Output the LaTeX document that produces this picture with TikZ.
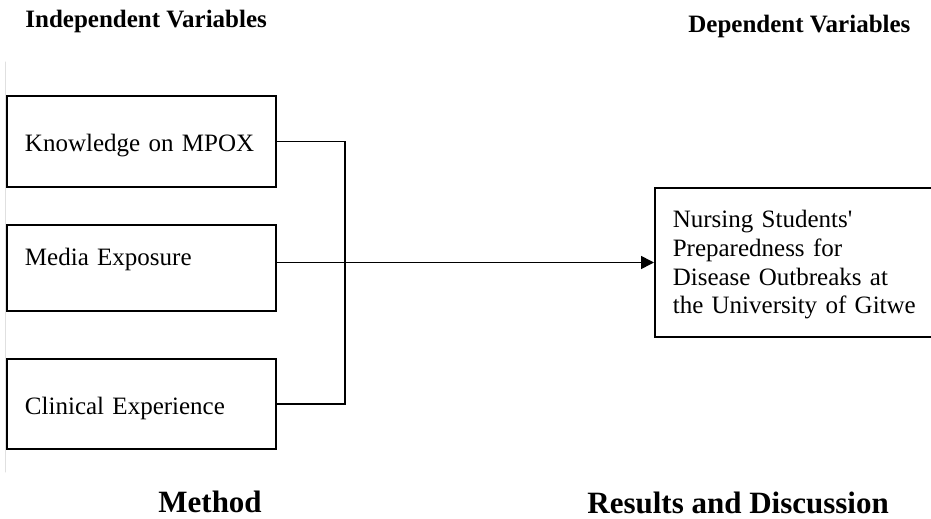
\documentclass[tikz,border=0pt]{standalone}
\usepackage{fontspec}
\setmainfont{Liberation Serif}
\usetikzlibrary{arrows.meta, calc}

\begin{document}
\begin{tikzpicture}[x=0.5pt,y=-0.5pt,line cap=round,
    varbox/.style={draw, line width=0.8pt, align=left, text width=116.5pt,
      inner xsep=9pt, inner ysep=0pt, font=\fontsize{12.5}{14.5}\selectfont,
      text height=10pt, text depth=0pt},
    heading/.style={font=\fontsize{12.5}{15}\selectfont\bfseries,
      anchor=base west, inner sep=0pt},
    sectitle/.style={font=\fontsize{15.5}{18}\selectfont\bfseries,
      anchor=base west, inner sep=0pt}]
  % --- Area della figura ---
  \path[use as bounding box, clip] (0,0) rectangle (931,519);
  \draw[black!12, line width=0.5pt] (5.5,62) -- (5.5,472);

  % --- Titoli delle colonne ---
  \node[heading] (indep) at (25,28) {Independent Variables};
  \node[heading] (dep) at (688,33) {Dependent Variables};

  % --- Variabili indipendenti ---
  \node[varbox, minimum height=45.5pt] (know) at (141.5,141.5) {Knowledge on MPOX};
  \node[varbox, minimum height=43pt, text height=8pt, text depth=11pt]
    (media) at (141.5,268) {Media Exposure};
  \node[varbox, minimum height=45pt] (clin) at (141.5,404) {Clinical Experience};

  % --- Variabile dipendente ---
  \node[varbox, anchor=west, text width=150pt, minimum height=74.5pt,
    text height=0pt, text depth=35.5pt] (prep) at (654,262.5)
    {Nursing Students\textquotesingle\\Preparedness for\\Disease Outbreaks at\\the University of Gitwe};

  % --- Collegamenti ---
  \coordinate (junc) at (345,268);
  \draw[line width=0.8pt] (know.east) -| (junc) |- (clin.east);
  \draw[line width=0.8pt, -{Triangle[length=6.5pt,width=6.5pt]}]
    (media.east |- prep.west) -- (prep.west);

  % --- Sezioni ---
  \node[sectitle] (meth) at (158,512) {Method};
  \node[sectitle] (res) at (587,513) {Results and Discussion};
\end{tikzpicture}
\end{document}
